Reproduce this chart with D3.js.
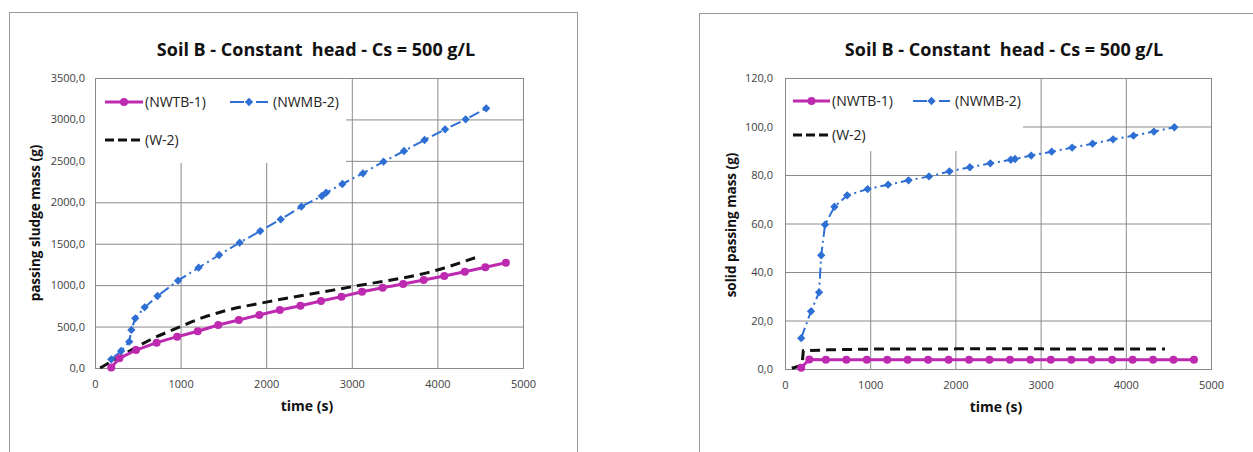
<!DOCTYPE html>
<html>
<head>
<meta charset="utf-8">
<script src="https://cdn.jsdelivr.net/npm/d3@7/dist/d3.min.js"></script>
<style>
  body { margin: 0; background: #fff; }
  svg { display: block; font-family: 'Open Sans', 'Noto Sans', sans-serif; }
</style>
</head>
<body>
<svg id="chart" width="1253" height="452"></svg>
<script>
'use strict';

// shared axes
var xTicks = [0, 1000, 2000, 3000, 4000, 5000];
var sludgeTicks = [0, 500, 1000, 1500, 2000, 2500, 3000, 3500];
var solidTicks = [0, 20, 40, 60, 80, 100, 120];
var seriesNames = ['(NWTB-1)', '(NWMB-2)', '(W-2)'];

// NWTB-1 sampling times (s)
var tbTime = [190, 285, 480, 720, 960, 1200, 1440, 1680, 1920, 2160, 2400, 2640, 2880, 3120, 3360, 3600, 3840, 4080, 4320, 4560, 4800];
// NWMB-2 sampling times (s)
var mbTime = [190, 305, 400, 425, 470, 580, 730, 970, 1210, 1450, 1690, 1930, 2170, 2410, 2650, 2700, 2890, 3130, 3370, 3610, 3850, 4090, 4330, 4570];

// left chart: passing sludge mass (g)
var tbSludge = [5, 117, 217, 306, 378, 443, 519, 579, 640, 700, 752, 809, 861, 921, 969, 1014, 1062, 1110, 1162, 1215, 1271];
var mbSludge = [105, 205, 318, 459, 600, 732, 869, 1054, 1211, 1364, 1513, 1653, 1794, 1947, 2076, 2116, 2221, 2350, 2490, 2619, 2752, 2881, 3001, 3134];
var w2SludgeTime = [60, 290, 640, 990, 1250, 1500, 2000, 2780, 3000, 4000, 4440];
var w2Sludge = [0, 137, 338, 495, 605, 685, 795, 940, 981, 1183, 1331];

// right chart: solid passing mass (g)
var tbSolid = [0.5, 3.9, 3.8, 3.8, 3.8, 3.8, 3.8, 3.8, 3.8, 3.8, 3.8, 3.8, 3.8, 3.8, 3.8, 3.8, 3.8, 3.8, 3.8, 3.8, 3.8];
var mbSolid = [12.7, 23.8, 31.6, 46.9, 59.5, 66.9, 71.6, 74.2, 76.0, 77.8, 79.4, 81.5, 83.2, 84.8, 86.3, 86.6, 88.0, 89.6, 91.3, 92.9, 94.7, 96.2, 97.9, 99.7];
var w2SolidTime = [80, 200, 215, 500, 1000, 2000, 3000, 4460];
var w2Solid = [0.3, 1.5, 7.5, 7.9, 8.2, 8.3, 8.3, 8.2];

var colors = { tb: '#bd2ab0', mb: '#2e6fd4', w2: '#111111' };
var gridColor = '#8a8a8a';

function zip(xs, ys) {
  return xs.map(function (x, i) { return { t: x, v: ys[i] }; });
}

function commaFmt(d) {
  return d3.format('.1f')(d).replace('.', ',');
}

var svg = d3.select('#chart');

function drawPanel(cfg) {
  // outer frame
  svg.append('rect')
    .attr('x', cfg.frame[0] + 0.5).attr('y', cfg.frame[1] + 0.5)
    .attr('width', cfg.frame[2]).attr('height', cfg.frame[3])
    .attr('fill', 'none').attr('stroke', '#9a9a9a');

  var x = d3.scaleLinear().domain([0, 5000]).range([cfg.left, cfg.right]);
  var y = d3.scaleLinear().domain([0, cfg.yMax]).range([cfg.bottom, cfg.top]);
  var w = cfg.right - cfg.left, h = cfg.bottom - cfg.top;

  var g = svg.append('g');

  // grid
  g.append('g')
    .attr('transform', 'translate(0,' + cfg.bottom + ')')
    .call(d3.axisBottom(x).tickValues(xTicks).tickSize(-h).tickFormat(''))
    .call(function (s) {
      s.select('.domain').remove();
      s.selectAll('line').attr('stroke', gridColor);
    });
  g.append('g')
    .attr('transform', 'translate(' + cfg.left + ',0)')
    .call(d3.axisLeft(y).tickValues(cfg.yTicks).tickSize(-w).tickFormat(''))
    .call(function (s) {
      s.select('.domain').remove();
      s.selectAll('line').attr('stroke', gridColor);
    });

  // legend background hides the grid under it
  g.append('rect')
    .attr('x', cfg.left + 1).attr('y', cfg.top + 1)
    .attr('width', cfg.legendBox[0]).attr('height', cfg.legendBox[1])
    .attr('fill', '#fff');

  // plot border
  g.append('rect')
    .attr('x', cfg.left + 0.5).attr('y', cfg.top + 0.5)
    .attr('width', w).attr('height', h)
    .attr('fill', 'none').attr('stroke', gridColor);

  // tick labels
  g.append('g')
    .attr('transform', 'translate(' + cfg.left + ',0)')
    .call(d3.axisLeft(y).tickValues(cfg.yTicks).tickSize(0).tickPadding(cfg.yPad).tickFormat(commaFmt))
    .call(function (s) {
      s.select('.domain').remove();
      s.selectAll('text').attr('font-size', 11).attr('fill', '#404040')
        .attr('font-family', "'Open Sans', sans-serif");
    });
  g.append('g')
    .attr('transform', 'translate(0,' + cfg.bottom + ')')
    .call(d3.axisBottom(x).tickValues(xTicks).tickSize(0).tickPadding(12).tickFormat(d3.format('d')))
    .call(function (s) {
      s.select('.domain').remove();
      s.selectAll('text').attr('font-size', 11).attr('fill', '#404040')
        .attr('font-family', "'Open Sans', sans-serif");
    });

  // titles
  svg.append('text')
    .attr('x', cfg.titleX).attr('y', 56)
    .attr('text-anchor', 'middle')
    .style('white-space', 'pre')
    .attr('font-size', 18).attr('font-weight', 'bold').attr('fill', '#111')
    .text('Soil B - Constant  head - Cs = 500 g/L');
  svg.append('text')
    .attr('x', (cfg.left + cfg.right) / 2 - 2).attr('y', cfg.bottom + 43)
    .attr('text-anchor', 'middle')
    .attr('font-size', 14).attr('font-weight', 'bold').attr('fill', '#111')
    .text('time (s)');
  svg.append('text')
    .attr('transform', 'translate(' + cfg.yTitleX + ',' + cfg.yTitleY + ') rotate(-90)')
    .attr('text-anchor', 'middle')
    .attr('font-size', 13.5).attr('font-weight', 'bold').attr('fill', '#111')
    .text(cfg.yTitle);

  var line = d3.line().curve(d3.curveMonotoneX)
    .x(function (d) { return x(d.t); }).y(function (d) { return y(d.v); });
  var straight = d3.line().x(function (d) { return x(d.t); }).y(function (d) { return y(d.v); });
  var diamond = d3.symbol().type(d3.symbolDiamond2).size(44);

  // W-2
  g.append('path').datum(cfg.w2)
    .attr('d', cfg.smoothW2 ? line : straight).attr('fill', 'none')
    .attr('stroke', colors.w2).attr('stroke-width', 3)
    .attr('stroke-dasharray', '10,6');

  // NWMB-2
  g.append('path').datum(cfg.mb)
    .attr('d', straight).attr('fill', 'none')
    .attr('stroke', colors.mb).attr('stroke-width', 2)
    .attr('stroke-dasharray', '11,4,2,4');
  g.selectAll('.mb-pt').data(cfg.mb).enter().append('path')
    .attr('class', 'mb-pt')
    .attr('transform', function (d) { return 'translate(' + x(d.t) + ',' + y(d.v) + ')'; })
    .attr('d', diamond).attr('fill', colors.mb);

  // NWTB-1
  g.append('path').datum(cfg.tb)
    .attr('d', straight).attr('fill', 'none')
    .attr('stroke', colors.tb).attr('stroke-width', 3);
  g.selectAll('.tb-pt').data(cfg.tb).enter().append('circle')
    .attr('class', 'tb-pt')
    .attr('cx', function (d) { return x(d.t); })
    .attr('cy', function (d) { return y(d.v); })
    .attr('r', 4).attr('fill', colors.tb);

  // legend
  var lg = g.append('g').attr('transform', 'translate(' + cfg.left + ',' + cfg.top + ')');
  var L = cfg.legend;
  lg.append('line').attr('x1', L.x1).attr('x2', L.x1 + L.len).attr('y1', L.r1).attr('y2', L.r1)
    .attr('stroke', colors.tb).attr('stroke-width', 3);
  lg.append('circle').attr('cx', L.x1 + L.len / 2).attr('cy', L.r1).attr('r', 4).attr('fill', colors.tb);
  lg.append('line').attr('x1', L.x2).attr('x2', L.x2 + L.len).attr('y1', L.r1).attr('y2', L.r1)
    .attr('stroke', colors.mb).attr('stroke-width', 2).attr('stroke-dasharray', '14,5,2,5');
  lg.append('path').attr('transform', 'translate(' + (L.x2 + L.len / 2) + ',' + L.r1 + ')')
    .attr('d', diamond).attr('fill', colors.mb);
  lg.append('line').attr('x1', L.x1).attr('x2', L.x1 + L.len).attr('y1', L.r2).attr('y2', L.r2)
    .attr('stroke', colors.w2).attr('stroke-width', 3).attr('stroke-dasharray', '9,4');

  var labels = [[L.x1 + L.len + 2, L.r1, seriesNames[0]], [L.x2 + L.len + 5, L.r1, seriesNames[1]], [L.x1 + L.len + 2, L.r2, seriesNames[2]]];
  lg.selectAll('.lg-txt').data(labels).enter().append('text')
    .attr('class', 'lg-txt')
    .attr('x', function (d) { return d[0]; })
    .attr('y', function (d) { return d[1]; })
    .attr('dy', '0.35em')
    .attr('font-size', cfg.legendFont).attr('fill', '#222')
    .text(function (d) { return d[2]; });
}

drawPanel({
  frame: [9, 12, 568, 460],
  left: 95, right: 523, top: 78, bottom: 368,
  yMax: 3500, yTicks: sludgeTicks, yPad: 10,
  titleX: 316,
  yTitle: 'passing sludge mass (g)', yTitleX: 40, yTitleY: 223,
  legendBox: [250, 84],
  legend: { x1: 10, x2: 135, len: 38, r1: 24, r2: 62 },
  legendFont: 14,
  smoothW2: true,
  tb: zip(tbTime, tbSludge),
  mb: zip(mbTime, mbSludge),
  w2: zip(w2SludgeTime, w2Sludge)
});

drawPanel({
  frame: [699, 13, 600, 460],
  left: 785, right: 1211, top: 78, bottom: 369,
  yMax: 120, yTicks: solidTicks, yPad: 12,
  titleX: 1004,
  yTitle: 'solid passing mass (g)', yTitleX: 736, yTitleY: 225,
  legendBox: [237, 72],
  legend: { x1: 8, x2: 128, len: 37, r1: 23, r2: 57 },
  legendFont: 14,
  smoothW2: false,
  tb: zip(tbTime, tbSolid),
  mb: zip(mbTime, mbSolid),
  w2: zip(w2SolidTime, w2Solid)
});
</script>
</body>
</html>
